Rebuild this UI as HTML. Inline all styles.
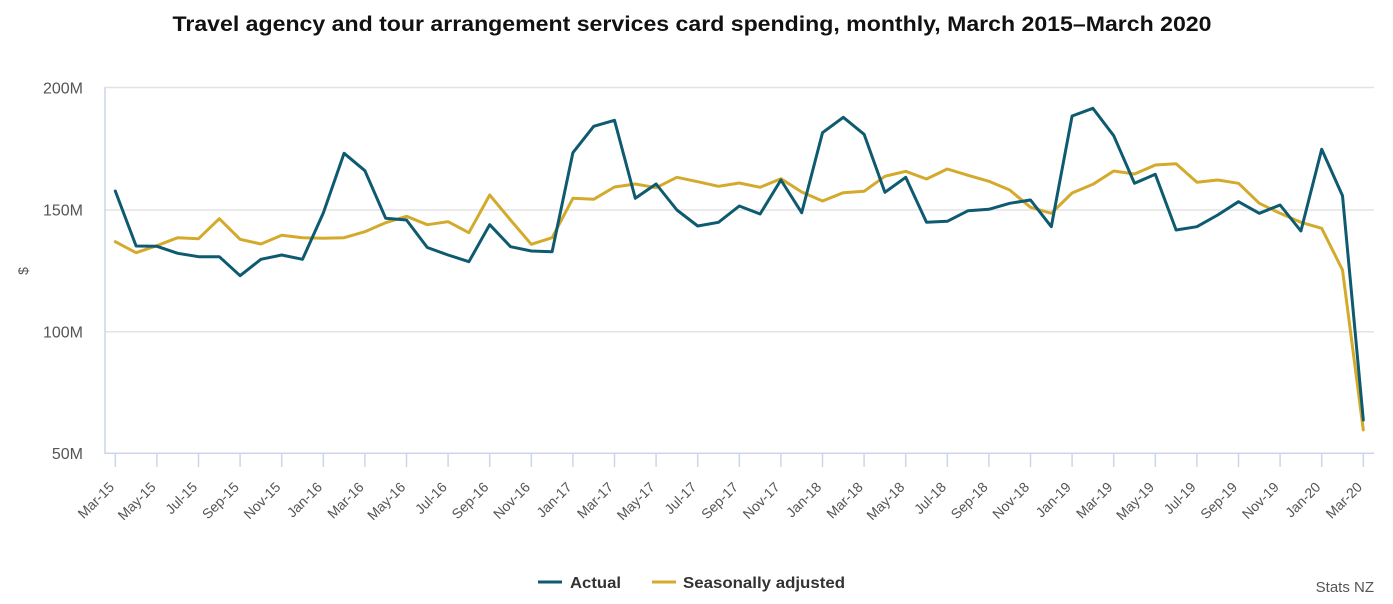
<!DOCTYPE html>
<html>
<head>
<meta charset="utf-8">
<style>
html,body{margin:0;padding:0;background:#fff;}
svg{display:block;}
text{font-family:"Liberation Sans",sans-serif;}
</style>
</head>
<body>
<svg width="1393" height="604" viewBox="0 0 1393 604" xmlns="http://www.w3.org/2000/svg">
<rect width="1393" height="604" fill="#fff"/>
<text x="692" y="31" text-anchor="middle" font-size="21" font-weight="bold" fill="#111" textLength="1039" lengthAdjust="spacingAndGlyphs">Travel agency and tour arrangement services card spending, monthly, March 2015–March 2020</text>

<!-- gridlines -->
<g stroke="#e3e3e3" stroke-width="1.5">
<line x1="105" y1="87.5" x2="1374" y2="87.5"/>
<line x1="105" y1="210" x2="1374" y2="210"/>
<line x1="105" y1="331.7" x2="1374" y2="331.7"/>
</g>
<g stroke="#ccd6eb" stroke-width="1.5">
<line x1="105" y1="87" x2="105" y2="454"/>
<line x1="105" y1="453.3" x2="1374" y2="453.3"/>
</g>
<g stroke="#ccd6eb" stroke-width="1.5" id="ticks">
<line x1="115.3" y1="453" x2="115.3" y2="467"/>
<line x1="156.9" y1="453" x2="156.9" y2="467"/>
<line x1="198.5" y1="453" x2="198.5" y2="467"/>
<line x1="240.1" y1="453" x2="240.1" y2="467"/>
<line x1="281.7" y1="453" x2="281.7" y2="467"/>
<line x1="323.3" y1="453" x2="323.3" y2="467"/>
<line x1="364.9" y1="453" x2="364.9" y2="467"/>
<line x1="406.5" y1="453" x2="406.5" y2="467"/>
<line x1="448.1" y1="453" x2="448.1" y2="467"/>
<line x1="489.7" y1="453" x2="489.7" y2="467"/>
<line x1="531.3" y1="453" x2="531.3" y2="467"/>
<line x1="572.9" y1="453" x2="572.9" y2="467"/>
<line x1="614.5" y1="453" x2="614.5" y2="467"/>
<line x1="656.1" y1="453" x2="656.1" y2="467"/>
<line x1="697.7" y1="453" x2="697.7" y2="467"/>
<line x1="739.3" y1="453" x2="739.3" y2="467"/>
<line x1="780.9" y1="453" x2="780.9" y2="467"/>
<line x1="822.5" y1="453" x2="822.5" y2="467"/>
<line x1="864.1" y1="453" x2="864.1" y2="467"/>
<line x1="905.7" y1="453" x2="905.7" y2="467"/>
<line x1="947.3" y1="453" x2="947.3" y2="467"/>
<line x1="988.9" y1="453" x2="988.9" y2="467"/>
<line x1="1030.5" y1="453" x2="1030.5" y2="467"/>
<line x1="1072.1" y1="453" x2="1072.1" y2="467"/>
<line x1="1113.7" y1="453" x2="1113.7" y2="467"/>
<line x1="1155.3" y1="453" x2="1155.3" y2="467"/>
<line x1="1196.9" y1="453" x2="1196.9" y2="467"/>
<line x1="1238.5" y1="453" x2="1238.5" y2="467"/>
<line x1="1280.1" y1="453" x2="1280.1" y2="467"/>
<line x1="1321.7" y1="453" x2="1321.7" y2="467"/>
<line x1="1363.3" y1="453" x2="1363.3" y2="467"/>
</g>

<!-- y labels -->
<g font-size="16" fill="#555" text-anchor="end">
<text x="83" y="93.5">200M</text>
<text x="83" y="215.5">150M</text>
<text x="83" y="337.5">100M</text>
<text x="83" y="459">50M</text>
</g>
<text x="0" y="0" font-size="14" fill="#555" text-anchor="middle" transform="translate(28,271) rotate(-90)">$</text>

<!-- x labels -->
<g font-size="14" fill="#555" text-anchor="end">
<text transform="translate(115,488) rotate(-45)">Mar-15</text>
<text transform="translate(156.6,488) rotate(-45)">May-15</text>
<text transform="translate(198.2,488) rotate(-45)">Jul-15</text>
<text transform="translate(239.8,488) rotate(-45)">Sep-15</text>
<text transform="translate(281.4,488) rotate(-45)">Nov-15</text>
<text transform="translate(323,488) rotate(-45)">Jan-16</text>
<text transform="translate(364.6,488) rotate(-45)">Mar-16</text>
<text transform="translate(406.2,488) rotate(-45)">May-16</text>
<text transform="translate(447.8,488) rotate(-45)">Jul-16</text>
<text transform="translate(489.4,488) rotate(-45)">Sep-16</text>
<text transform="translate(531,488) rotate(-45)">Nov-16</text>
<text transform="translate(572.6,488) rotate(-45)">Jan-17</text>
<text transform="translate(614.2,488) rotate(-45)">Mar-17</text>
<text transform="translate(655.8,488) rotate(-45)">May-17</text>
<text transform="translate(697.4,488) rotate(-45)">Jul-17</text>
<text transform="translate(739,488) rotate(-45)">Sep-17</text>
<text transform="translate(780.6,488) rotate(-45)">Nov-17</text>
<text transform="translate(822.2,488) rotate(-45)">Jan-18</text>
<text transform="translate(863.8,488) rotate(-45)">Mar-18</text>
<text transform="translate(905.4,488) rotate(-45)">May-18</text>
<text transform="translate(947,488) rotate(-45)">Jul-18</text>
<text transform="translate(988.6,488) rotate(-45)">Sep-18</text>
<text transform="translate(1030.2,488) rotate(-45)">Nov-18</text>
<text transform="translate(1071.8,488) rotate(-45)">Jan-19</text>
<text transform="translate(1113.4,488) rotate(-45)">Mar-19</text>
<text transform="translate(1155,488) rotate(-45)">May-19</text>
<text transform="translate(1196.6,488) rotate(-45)">Jul-19</text>
<text transform="translate(1238.2,488) rotate(-45)">Sep-19</text>
<text transform="translate(1279.8,488) rotate(-45)">Nov-19</text>
<text transform="translate(1321.4,488) rotate(-45)">Jan-20</text>
<text transform="translate(1363,488) rotate(-45)">Mar-20</text>
</g>

<!-- series -->
<polyline fill="none" stroke="#d4aa2c" stroke-width="3" stroke-linejoin="round" stroke-linecap="round" points="115.3,241.7 136.1,252.7 156.9,245.7 177.7,237.7 198.5,238.7 219.3,218.7 240.1,239.3 260.9,244 281.7,235.3 302.5,237.7 323.3,238.3 344.1,237.7 364.9,231.7 385.7,222.7 406.5,216.3 427.3,224.7 448.1,221.7 468.9,232.7 489.7,195 510.5,220 531.3,244.3 552.1,237.7 572.9,198.3 593.7,199.3 614.5,187 635.3,184 656.1,187.7 676.9,177.3 697.7,181.7 718.5,186.3 739.3,183 760.1,187.3 780.9,178.7 801.7,192 822.5,201 843.3,192.7 864.1,191.3 884.9,176.3 905.7,171.3 926.5,179 947.3,169 968.1,175.3 988.9,181.3 1009.7,190 1030.5,207.3 1051.3,213.3 1072.1,193 1092.9,184.3 1113.7,171 1134.5,174 1155.3,165 1176.1,163.7 1196.9,182.3 1217.7,180 1238.5,183.3 1259.3,203.3 1280.1,213.3 1300.9,222.3 1321.7,228.3 1342.5,270 1363.3,430"/>
<polyline fill="none" stroke="#0e5a70" stroke-width="3" stroke-linejoin="round" stroke-linecap="round" points="115.3,191 136.1,246 156.9,246.3 177.7,253.3 198.5,256.7 219.3,256.7 240.1,275.7 260.9,259.3 281.7,255 302.5,259.3 323.3,213 344.1,153.3 364.9,170.7 385.7,218.3 406.5,220 427.3,247.5 448.1,255 468.9,261.7 489.7,224.7 510.5,246.7 531.3,251 552.1,251.7 572.9,152.7 593.7,126.3 614.5,120.3 635.3,198.3 656.1,184 676.9,210 697.7,226 718.5,222.3 739.3,206 760.1,214 780.9,180 801.7,212.7 822.5,132.7 843.3,117.3 864.1,134.3 884.9,192.3 905.7,177.3 926.5,222.3 947.3,221.3 968.1,210.7 988.9,209.3 1009.7,203.3 1030.5,200 1051.3,226.7 1072.1,116 1092.9,108.3 1113.7,135.7 1134.5,183.3 1155.3,174.3 1176.1,230 1196.9,226.7 1217.7,215 1238.5,201.7 1259.3,213.3 1280.1,205 1300.9,231 1321.7,149.3 1342.5,195.7 1363.3,420"/>

<!-- legend -->
<line x1="538" y1="582" x2="562" y2="582" stroke="#0e5a70" stroke-width="3"/>
<text x="570" y="588" font-size="16" font-weight="bold" fill="#333" textLength="51" lengthAdjust="spacingAndGlyphs">Actual</text>
<line x1="652" y1="582" x2="676" y2="582" stroke="#d4aa2c" stroke-width="3"/>
<text x="683" y="588" font-size="16" font-weight="bold" fill="#333" textLength="162" lengthAdjust="spacingAndGlyphs">Seasonally adjusted</text>

<text x="1374" y="592" font-size="15" fill="#555" text-anchor="end">Stats NZ</text>
</svg>
</body>
</html>
